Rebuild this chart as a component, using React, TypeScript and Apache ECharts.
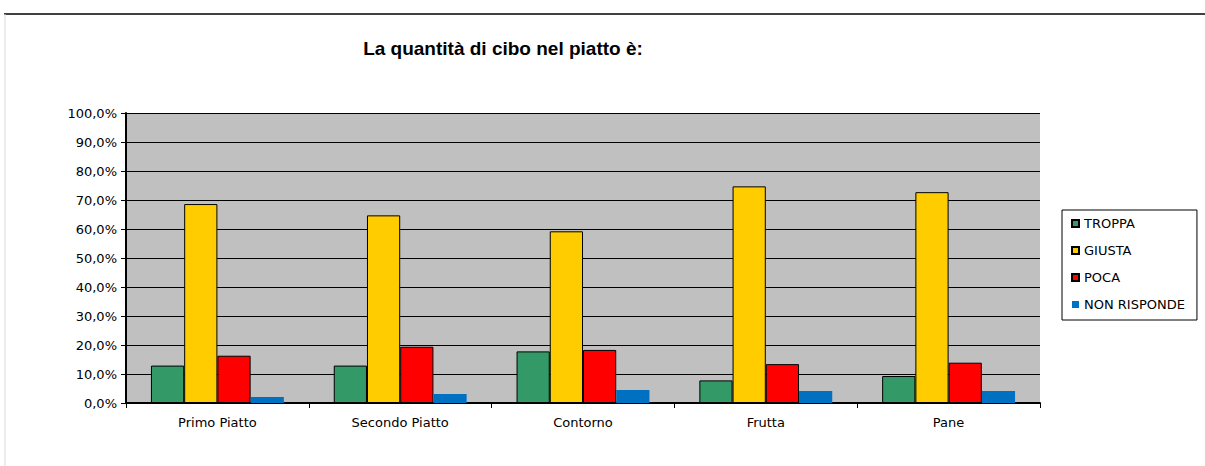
import React, { useEffect, useRef } from "react";
import * as echarts from "echarts";

const categories = ["Primo Piatto", "Secondo Piatto", "Contorno", "Frutta", "Pane"];
const troppa = [12.9, 12.9, 17.8, 7.8, 9.3];
const giusta = [68.6, 64.7, 59.2, 74.7, 72.7];
const poca = [16.3, 19.4, 18.3, 13.4, 13.9];
const nonRisponde = [2.1, 3.1, 4.5, 4.1, 4.1];
const seriesNames = ["TROPPA", "GIUSTA", "POCA", "NON RISPONDE"];
const title = "La quantità di cibo nel piatto è:";

const FONT = "'DejaVu Sans', sans-serif";
const TITLE_FONT = "'Liberation Sans', Arial, sans-serif";

export default function App() {
  const ref = useRef<HTMLDivElement>(null);
  useEffect(() => {
    document.body.style.margin = "0";
    const chart = echarts.init(ref.current!, null, { renderer: "svg" });
    const bordered = (color: string) => ({ color, borderColor: "#000", borderWidth: 1 });
    const common = { type: "bar", barGap: "0%", barCategoryGap: "27.3%" };
    chart.setOption({
      animation: false,
      backgroundColor: "#fff",
      title: {
        text: title,
        left: 498,
        top: 34,
        textAlign: "center",
        textStyle: { fontFamily: TITLE_FONT, fontSize: 19, fontWeight: "bold", color: "#000" },
      },
      legend: {
        orient: "vertical",
        left: 1062,
        top: 210,
        padding: [7, 12, 9, 9],
        borderColor: "#000",
        borderWidth: 1,
        itemWidth: 7,
        itemHeight: 7,
        itemGap: 14,
        icon: "rect",
        textStyle: { fontFamily: FONT, fontSize: 13, color: "#000" },
        data: seriesNames,
      },
      grid: { left: 126, right: 165, top: 113, bottom: 63 },
      xAxis: {
        type: "category",
        data: categories,
        axisLine: { lineStyle: { color: "#000", width: 2 } },
        axisTick: { show: true, length: 5, lineStyle: { color: "#000" } },
        axisLabel: { fontFamily: FONT, fontSize: 13, color: "#000", margin: 13 },
      },
      yAxis: {
        type: "value",
        min: 0,
        max: 100,
        interval: 10,
        axisLine: { show: true, lineStyle: { color: "#000", width: 2 } },
        axisTick: { show: true, length: 5, lineStyle: { color: "#000" } },
        axisLabel: {
          fontFamily: FONT,
          fontSize: 13,
          color: "#000",
          margin: 9,
          formatter: (v: number) => v.toFixed(1).replace(".", ",") + "%",
        },
        splitLine: { lineStyle: { color: "#000", width: 1 } },
        splitArea: { show: true, areaStyle: { color: ["#c0c0c0", "#c0c0c0"] } },
      },
      series: [
        { ...common, name: seriesNames[0], data: troppa, itemStyle: bordered("#339966") },
        { ...common, name: seriesNames[1], data: giusta, itemStyle: bordered("#ffcc00") },
        { ...common, name: seriesNames[2], data: poca, itemStyle: bordered("#ff0000") },
        { ...common, name: seriesNames[3], data: nonRisponde, itemStyle: { color: "#0070c0" } },
      ],
      graphic: [
        { type: "line", shape: { x1: 4, y1: 14, x2: 1205, y2: 14 }, style: { stroke: "#000", lineWidth: 1.5 } },
        { type: "line", shape: { x1: 5, y1: 14, x2: 5, y2: 466 }, style: { stroke: "#d9d9d9", lineWidth: 1 } },
      ],
    });
    return () => chart.dispose();
  }, []);
  return <div ref={ref} style={{ width: 1205, height: 466 }} />;
}
